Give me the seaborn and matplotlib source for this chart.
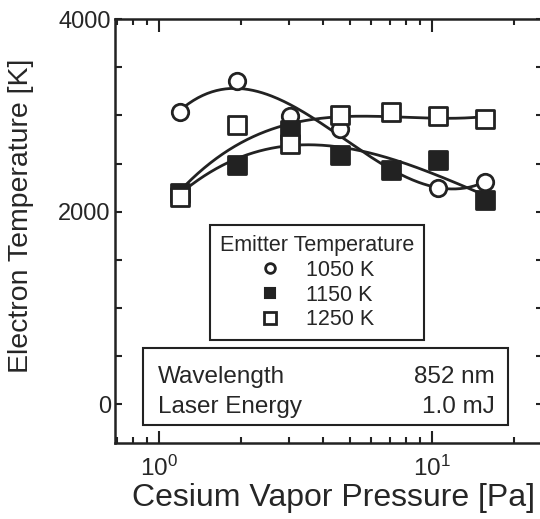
import numpy as np
import pandas as pd
import matplotlib
matplotlib.use("Agg")
import matplotlib.pyplot as plt
import seaborn as sns
from matplotlib.lines import Line2D
from matplotlib.patches import Rectangle
from matplotlib.ticker import FixedLocator, FuncFormatter, LogLocator, NullFormatter

# ---- data ----
pressure = [1.19, 1.93, 3.01, 4.62, 7.07, 10.5, 15.6]
t_1050 = [3030, 3360, 2990, 2860, 2430, 2245, 2310]
t_1150 = [2190, 2480, 2845, 2585, 2430, 2535, 2120]
t_1250 = [2155, 2895, 2705, 3000, 3035, 2990, 2965]
series_labels = ["1050 K", "1150 K", "1250 K"]
y_ticks = [0, 500, 1000, 1500, 2000, 2500, 3000, 3500, 4000]
y_labeled = [0, 2000, 4000]
info_keys = ["Wavelength", "Laser Energy"]
info_vals = ["852 nm", "1.0 mJ"]

sns.set_theme(style="ticks")
plt.rcParams["font.family"] = ["Liberation Sans", "DejaVu Sans"]
plt.rcParams["mathtext.fontset"] = "custom"
plt.rcParams["mathtext.rm"] = "Liberation Sans"
plt.rcParams["mathtext.it"] = "Liberation Sans:italic"
plt.rcParams["mathtext.bf"] = "Liberation Sans:bold"

INK = "#222222"
fig = plt.figure(figsize=(5.40, 5.19), dpi=100)
ax = fig.add_axes([115/540, 1-443/519, 428/540, 424/519])

rows = []
for lab, vals in zip(series_labels, [t_1050, t_1150, t_1250]):
    for p, v in zip(pressure, vals):
        rows.append({"p": p, "T": v, "series": lab})
df = pd.DataFrame(rows)

# fitted smooth curves (cubic polynomial in log10 p)
curve_rows = []
for lab, vals in zip(series_labels, [t_1050, t_1150, t_1250]):
    lx = np.log10(pressure)
    coef = np.polyfit(lx, vals, 3)
    xs = np.linspace(lx[0], lx[-1], 200)
    for xx in xs:
        curve_rows.append({"p": 10**xx, "T": np.polyval(coef, xx), "series": lab})
cdf = pd.DataFrame(curve_rows)

sns.lineplot(data=cdf, x="p", y="T", units="series", estimator=None, sort=False,
             color=INK, lw=2.0, ax=ax, legend=False)

styles = {"1050 K": dict(marker="o", s=140, facecolor="white"),
          "1150 K": dict(marker="s", s=165, facecolor=INK),
          "1250 K": dict(marker="s", s=165, facecolor="white")}
for lab in series_labels:
    st = styles[lab]
    sub = df[df.series == lab]
    sns.scatterplot(data=sub, x="p", y="T", marker=st["marker"], s=st["s"],
                    facecolor=st["facecolor"], edgecolor=INK, linewidth=2.0,
                    ax=ax, zorder=3, legend=False)

ax.set_xscale("log")
ax.set_xlim(0.69, 25.5)
ax.set_ylim(-400, 4000)
ax.yaxis.set_major_locator(FixedLocator(y_ticks))
ax.yaxis.set_major_formatter(FuncFormatter(lambda v, _: f"{int(v)}" if int(v) in y_labeled else ""))
ax.xaxis.set_major_locator(LogLocator(base=10, numticks=10))
ax.xaxis.set_minor_locator(LogLocator(base=10, subs=np.arange(2, 10), numticks=10))
ax.xaxis.set_minor_formatter(NullFormatter())

for s in ax.spines.values():
    s.set_linewidth(1.8)
    s.set_color(INK)
ax.tick_params(axis="both", which="both", direction="in", top=True, right=True, color=INK, width=1.5)
ax.tick_params(axis="y", which="major", length=5, labelsize=17, pad=3)
ax.tick_params(axis="x", which="major", length=9, labelsize=17.5, pad=9)
ax.tick_params(axis="x", which="minor", length=4.5)

ax.set_xlabel("Cesium Vapor Pressure [Pa]", fontsize=23)
ax.set_ylabel("Electron Temperature [K]", fontsize=20.5)
ax.xaxis.set_label_coords(0.51, -0.094)
ax.yaxis.set_label_coords(-0.19, 0.535)

handles = [Line2D([], [], ls="none", marker="o", ms=7, mfc="white", mec=INK, mew=2),
           Line2D([], [], ls="none", marker="s", ms=7, mfc=INK, mec=INK, mew=1.5),
           Line2D([], [], ls="none", marker="s", ms=8, mfc="white", mec=INK, mew=2)]
leg = ax.legend(handles, series_labels, title="Emitter Temperature", loc="upper left",
                bbox_to_anchor=(0.222, 0.514), fontsize=15.5, title_fontsize=15.5,
                frameon=True, fancybox=False, edgecolor=INK, framealpha=1,
                handlelength=1.0, handletextpad=1.2, labelspacing=0.18,
                borderpad=0.45, borderaxespad=0)
leg.get_frame().set_linewidth(1.5)

ax.add_patch(Rectangle((0.0654, 0.0425), 0.918-0.0654, 0.224-0.0425, transform=ax.transAxes,
                       fill=True, facecolor="white", edgecolor=INK, lw=1.5, zorder=4))
for i, (k, v) in enumerate(zip(info_keys, info_vals)):
    yy = [0.1557, 0.0849][i]
    ax.text(0.1005, yy, k, transform=ax.transAxes, fontsize=17.5, ha="left", va="center", zorder=5)
    ax.text(0.888, yy, v, transform=ax.transAxes, fontsize=17.5, ha="right", va="center", zorder=5)

fig.savefig("out.png", dpi=100)
